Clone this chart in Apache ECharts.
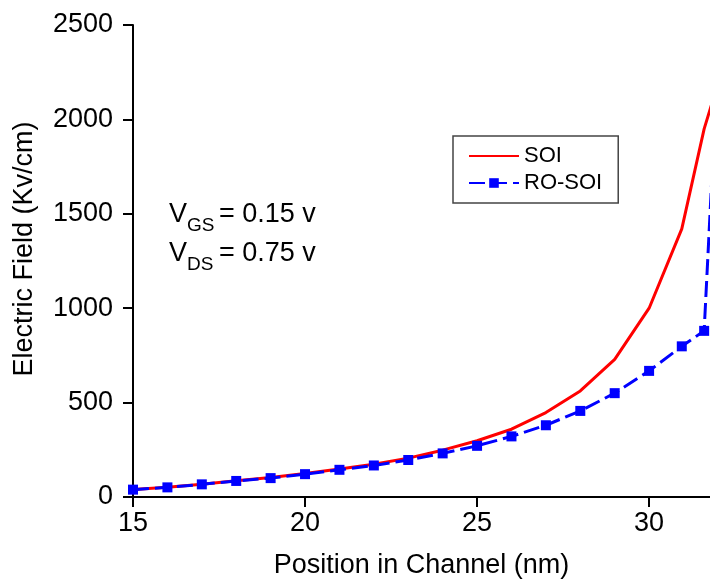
<!DOCTYPE html>
<html>
<head>
<meta charset="utf-8">
<script src="https://cdn.jsdelivr.net/npm/echarts@6/dist/echarts.min.js"></script>
<style>
  html, body { margin: 0; padding: 0; background: #fff; }
  #chart { width: 710px; height: 584px; }
</style>
</head>
<body>
<div id="chart"></div>
<script>
// position in channel (nm)
const positions = [15, 16, 17, 18, 19, 20, 21, 22, 23, 24, 25, 26, 27, 28, 29, 30, 30.95, 31.6, 31.9]
// electric field (Kv/cm)
const soiField = [40, 52, 68, 86, 103, 124, 148, 174, 206, 248, 298, 359, 447, 562, 729, 1000, 1420, 1950, 2130]
const roSoiField = [39, 51, 67, 85, 100, 121, 144, 167, 196, 231, 271, 321, 380, 456, 550, 668, 798, 880, 1970]
const seriesNames = ['SOI', 'RO-SOI']

const font = 'Liberation Sans, Arial, Helvetica, sans-serif'

const zip = (xs, ys) => xs.map((x, i) => [x, ys[i]])

const chart = echarts.init(document.getElementById('chart'))

const option = {
  animation: false,
  backgroundColor: '#fff',
  grid: {
    left: 133,
    right: 0,
    top: 25,
    bottom: 86
  },
  legend: {
    orient: 'vertical',
    left: 453,
    top: 136,
    data: [
      // SOI has no markers, so hide the symbol in its legend icon
      { name: seriesNames[0], itemStyle: { opacity: 0 } },
      { name: seriesNames[1] }
    ],
    itemWidth: 50,
    itemHeight: 12,
    itemGap: 1,
    padding: [7, 16, 7, 15],
    borderColor: '#444',
    borderWidth: 1.5,
    borderRadius: 0,
    textStyle: {
      fontFamily: font,
      fontSize: 22,
      color: '#000',
      lineHeight: 26
    }
  },
  xAxis: {
    type: 'value',
    min: 15,
    max: 31.77,
    interval: 5,
    name: 'Position in Channel (nm)',
    nameLocation: 'middle',
    nameGap: 55,
    nameTextStyle: { fontFamily: font, fontSize: 27, color: '#000' },
    splitLine: { show: false },
    axisLine: { onZero: false, lineStyle: { color: '#000', width: 2 } },
    axisTick: { length: 10, lineStyle: { color: '#000', width: 2 } },
    axisLabel: {
      showMaxLabel: false,
      margin: 13,
      fontFamily: font,
      fontSize: 27,
      color: '#000'
    }
  },
  yAxis: {
    type: 'value',
    min: 0,
    max: 2500,
    interval: 500,
    splitLine: { show: false },
    axisLine: { show: true, lineStyle: { color: '#000', width: 2 } },
    axisTick: { show: true, length: 10, lineStyle: { color: '#000', width: 2 } },
    axisLabel: {
      margin: 20,
      fontFamily: font,
      fontSize: 27,
      color: '#000',
      formatter: v => String(v)
    }
  },
  graphic: [
    {
      type: 'text',
      x: 25,
      y: 249,
      rotation: Math.PI / 2,
      style: {
        text: 'Electric Field (Kv/cm)',
        fontFamily: font,
        fontSize: 27,
        fill: '#000',
        align: 'center',
        verticalAlign: 'middle'
      }
    },
    // V_GS = 0.15 v
    { type: 'text', x: 169, y: 215, style: { text: 'V', fontFamily: font, fontSize: 27, fill: '#000', verticalAlign: 'middle' } },
    { type: 'text', x: 187, y: 226, style: { text: 'GS', fontFamily: font, fontSize: 19, fill: '#000', verticalAlign: 'middle' } },
    { type: 'text', x: 219, y: 215, style: { text: '= 0.15 v', fontFamily: font, fontSize: 27, fill: '#000', verticalAlign: 'middle' } },
    // V_DS = 0.75 v
    { type: 'text', x: 169, y: 254, style: { text: 'V', fontFamily: font, fontSize: 27, fill: '#000', verticalAlign: 'middle' } },
    { type: 'text', x: 187, y: 265, style: { text: 'DS', fontFamily: font, fontSize: 19, fill: '#000', verticalAlign: 'middle' } },
    { type: 'text', x: 219, y: 254, style: { text: '= 0.75 v', fontFamily: font, fontSize: 27, fill: '#000', verticalAlign: 'middle' } }
  ],
  series: [
    {
      name: seriesNames[0],
      type: 'line',
      data: zip(positions, soiField),
      symbol: 'none',
      color: '#ff0000',
      lineStyle: { color: '#ff0000', width: 3 },
      z: 2
    },
    {
      name: seriesNames[1],
      type: 'line',
      data: zip(positions, roSoiField),
      symbol: 'rect',
      symbolSize: 10,
      color: '#0000ff',
      itemStyle: { color: '#0000ff' },
      lineStyle: { color: '#0000ff', width: 3, type: [16, 6] },
      z: 3
    }
  ]
}

chart.setOption(option)
</script>
</body>
</html>
